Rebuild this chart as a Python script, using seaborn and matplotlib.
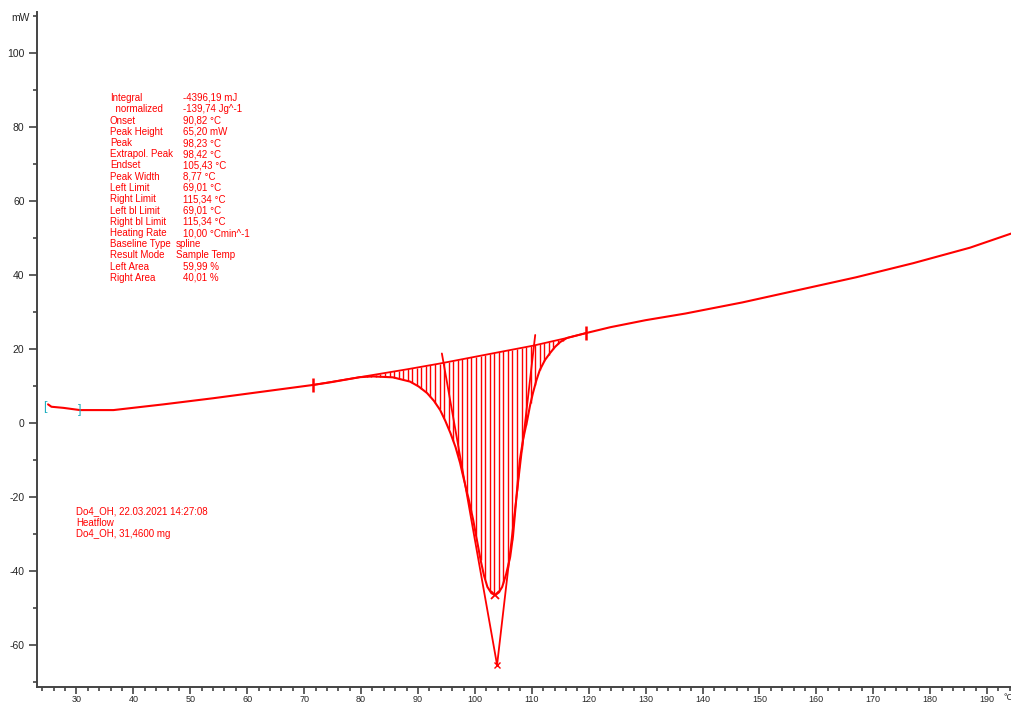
import numpy as np
import pandas as pd
import matplotlib
matplotlib.use('Agg')
import matplotlib.pyplot as plt
from matplotlib.ticker import MultipleLocator
import seaborn as sns

temp = [25.0, 25.6, 27.7, 30.6, 36.5, 45.3, 54.0, 62.8, 71.6, 74.6, 79.8, 82.1,
        85.6, 88.6, 90.1, 91.6, 92.8, 93.9, 94.8, 95.7, 96.6, 97.4, 98.0, 98.9,
        99.7, 100.4, 101.0, 101.6, 102.2, 102.9, 103.6, 104.2, 104.8, 105.5,
        106.2, 106.7, 107.1, 107.5, 107.9, 108.5, 109.2, 109.7, 110.2, 110.8,
        111.4, 112.3, 113.2, 114.1, 115.0, 116.2, 119.5, 123.8, 130.0, 137.0,
        147.0, 157.0, 167.0, 177.0, 187.0, 194.2]
heatflow = [5.05, 4.4, 4.1, 3.5, 3.5, 5.05, 6.7, 8.5, 10.3, 11.0, 12.4, 12.6,
            12.35, 11.2, 9.9, 8.1, 6.0, 3.5, 0.6, -2.7, -6.5, -10.8, -14.8, -20.5,
            -26.2, -32.0, -37.0, -41.2, -44.3, -46.0, -46.5, -45.8, -44.3, -40.8,
            -36.2, -30.5, -23.5, -16.5, -10.0, -4.2, 0.8, 4.8, 8.1, 11.5,
            14.3, 17.0, 18.9, 20.6, 21.9, 23.0, 24.3, 25.9, 27.8, 29.6,
            32.6, 36.0, 39.4, 43.2, 47.4, 51.2]

# spline baseline between the integration limits
base_temp = [71.6, 79.8, 88.0, 93.9, 104.4, 110.2, 116.2, 119.5]
base_flow = [10.3, 12.4, 14.5, 16.1, 19.2, 20.9, 23.0, 24.3]

# onset / endset tangents meeting at the extrapolated peak
left_tan_t, left_tan_y = [94.2, 103.9], [18.8, -65.4]
right_tan_t, right_tan_y = [110.6, 103.9], [23.8, -65.4]
peak_t, peak_y = 103.6, -46.5
limit_t = [71.6, 119.5]
limit_y = [10.3, 24.3]

info_labels = ['Integral', '  normalized', 'Onset', 'Peak Height', 'Peak',
               'Extrapol. Peak', 'Endset', 'Peak Width', 'Left Limit', 'Right Limit',
               'Left bl Limit', 'Right bl Limit', 'Heating Rate', 'Baseline Type',
               'Result Mode', 'Left Area', 'Right Area']
info_values = ['-4396,19 mJ', '-139,74 Jg^-1', '90,82 °C', '65,20 mW', '98,23 °C',
               '98,42 °C', '105,43 °C', '8,77 °C', '69,01 °C', '115,34 °C',
               '69,01 °C', '115,34 °C', '10,00 °Cmin^-1', 'spline',
               'Sample Temp', '59,99 %', '40,01 %']
sample_lines = ['Do4_OH, 22.03.2021 14:27:08', 'Heatflow', 'Do4_OH, 31,4600 mg']

sns.set_style('ticks')
plt.rcParams['font.family'] = ['Liberation Sans', 'DejaVu Sans']
plt.rcParams['axes.unicode_minus'] = False

red = '#ff0000'
fig = plt.figure(figsize=(10.11, 7.04), dpi=100)
ax = fig.add_axes([37 / 1011, 1 - 687 / 704, 1 - 37 / 1011, (687 - 12) / 704])

df = pd.DataFrame({'T': temp, 'HF': heatflow})
sns.lineplot(data=df, x='T', y='HF', ax=ax, color=red, lw=1.5, sort=False)
base = pd.DataFrame({'T': base_temp, 'HF': base_flow})
sns.lineplot(data=base, x='T', y='HF', ax=ax, color=red, lw=1.3, sort=False)

# hatching between baseline and curve
ht = np.arange(81.0, 115.8, 0.8)
ax.vlines(ht, np.interp(ht, temp, heatflow), np.interp(ht, base_temp, base_flow),
          color=red, lw=1.0)

ax.plot(left_tan_t, left_tan_y, color=red, lw=1.3)
ax.plot(right_tan_t, right_tan_y, color=red, lw=1.3)
ax.plot([peak_t], [peak_y], marker='x', color=red, ms=6, mew=1.3)
ax.plot([left_tan_t[1]], [left_tan_y[1]], marker='x', color=red, ms=4, mew=1.0)
ax.plot(limit_t, limit_y, ls='none', marker='|', color=red, ms=10, mew=1.8)

ax.text(24.5, 4.3, '[', color='#20b0c0', fontsize=9, ha='center', va='center')
ax.text(30.6, 3.5, ']', color='#20b0c0', fontsize=9, ha='center', va='center')

ax.set_xlim(23.06, 194.2)
ax.set_ylim(-71.35, 111.1)
ax.xaxis.set_minor_locator(MultipleLocator(2))
ax.yaxis.set_minor_locator(MultipleLocator(10))
ax.set_xticks(range(30, 200, 10))
ax.set_yticks(range(-60, 101, 20))
ax.tick_params(which='major', length=6, width=1.1, color='#333333', labelsize=7.5)
ax.tick_params(which='minor', length=3, width=1.1, color='#333333')
ax.tick_params(axis='x', which='major', length=5, pad=0.5, labelsize=6.5)
ax.tick_params(axis='y', which='major', pad=3)
ax.set_xlabel('')
ax.set_ylabel('')
sns.despine(ax=ax)
for s in ['left', 'bottom']:
    ax.spines[s].set_color('#444444')
    ax.spines[s].set_linewidth(1.4)

fig.text(20 / 1011, 1 - 18 / 704, 'mW', fontsize=7.5, ha='center', va='center')
fig.text(1003 / 1011, 1 - 698 / 704, '°C', fontsize=6.5, ha='left', va='center')

for i, (lab, val) in enumerate(zip(info_labels, info_values)):
    y = 1 - (98 + i * 11.25) / 704
    fig.text(110 / 1011, y, lab, color=red, fontsize=7, va='center')
    vx = 176 if lab in ('Baseline Type', 'Result Mode') else 183
    fig.text(vx / 1011, y, val, color=red, fontsize=7, va='center')

for i, line in enumerate(sample_lines):
    fig.text(76 / 1011, 1 - (511 + i * 11.5) / 704, line, color=red, fontsize=7, va='center')

fig.savefig('out.png', dpi=100)
